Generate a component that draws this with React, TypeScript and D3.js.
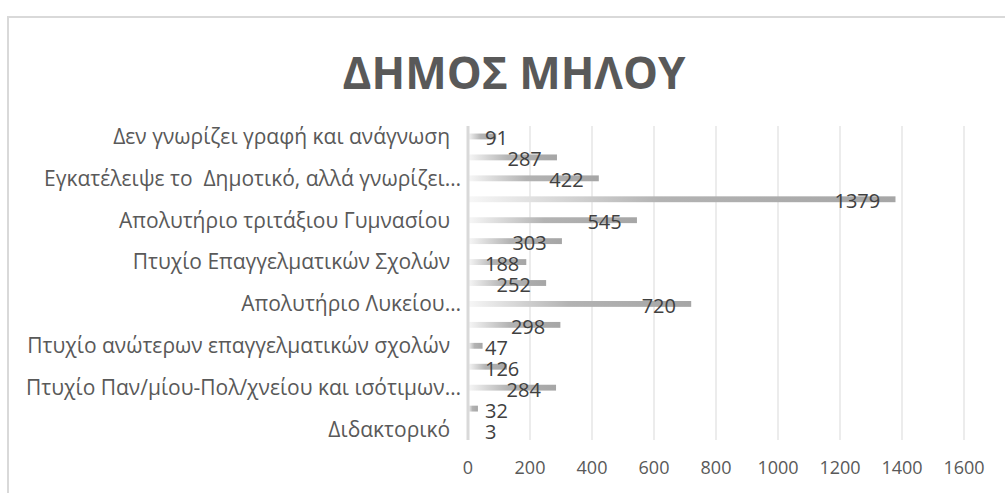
import React from "react";
import * as d3 from "d3";

// education level categories (only every other one is labelled in the chart)
const categories = [
  "Δεν γνωρίζει γραφή και ανάγνωση  ",
  "Δεν πήγε σχολείο αλλά γνωρίζει γραφή και ανάγνωση",
  "Εγκατέλειψε το  Δημοτικό, αλλά γνωρίζει…",
  "Απολυτήριο Δημοτικού",
  "Απολυτήριο τριτάξιου Γυμνασίου  ",
  "Απολυτήριο Γυμνασίου",
  "Πτυχίο Επαγγελματικών Σχολών  ",
  "Πτυχίο Τεχνικής Επαγγελματικής Σχολής",
  "Απολυτήριο Λυκείου…",
  "Πτυχίο Μεταδευτεροβάθμιας εκπαίδευσης",
  "Πτυχίο ανώτερων επαγγελματικών σχολών  ",
  "Πτυχίο ΤΕΙ",
  "Πτυχίο Παν/μίου-Πολ/χνείου και ισότιμων…",
  "Μεταπτυχιακό",
  "Διδακτορικό  ",
];
const values = [91, 287, 422, 1379, 545, 303, 188, 252, 720, 298, 47, 126, 284, 32, 3];
const xTicks = [0, 200, 400, 600, 800, 1000, 1200, 1400, 1600];
const title = "ΔΗΜΟΣ ΜΗΛΟΥ";

const width = 1005;
const height = 493;
const font = "'Open Sans', sans-serif";
const textColor = "#595959";

const App = () => {
  const x = d3.scaleLinear().domain([0, 1600]).range([468, 964]);
  const y = d3
    .scaleBand()
    .domain(categories)
    .range([126, 440])
    .paddingInner(0.72)
    .paddingOuter(0.36);
  const digitW = 11.5;

  return (
    <svg
      width={width}
      height={height}
      style={{ position: "absolute", left: 0, top: 0, background: "#fff" }}
      fontFamily={font}
    >
      <defs>
        <linearGradient id="barGrad" x1="0" x2="1" y1="0" y2="0">
          <stop offset="0" stopColor="#f7f7f7" />
          <stop offset="0.45" stopColor="#b3b3b3" />
          <stop offset="1" stopColor="#a6a6a6" />
        </linearGradient>
      </defs>
      <rect x={8} y={17} width={1100} height={600} fill="#fff" stroke="#d9d9d9" strokeWidth={2} />
      <text
        x={514}
        y={89}
        textAnchor="middle"
        fontSize={44}
        fontWeight="bold"
        fill={textColor}
      >
        {title}
      </text>

      {/* gridlines */}
      {xTicks.slice(1).map((t) => (
        <line key={t} x1={x(t)} x2={x(t)} y1={126} y2={440} stroke="#d9d9d9" strokeWidth={1} />
      ))}
      {xTicks.map((t) => (
        <text key={"l" + t} x={x(t)} y={474} textAnchor="middle" fontSize={18} fill={textColor}>
          {t}
        </text>
      ))}

      {/* bars */}
      {values.map((v, i) => (
        <rect
          key={i}
          x={x(0)}
          y={y(categories[i])!}
          width={x(v) - x(0)}
          height={y.bandwidth()}
          fill="url(#barGrad)"
        />
      ))}

      {/* vertical axis line */}
      <line x1={x(0)} x2={x(0)} y1={126} y2={440} stroke="#d9d9d9" strokeWidth={3} />

      {/* category labels, every other one */}
      {categories.map((c, i) =>
        i % 2 === 0 ? (
          <text
            key={"c" + i}
            x={461}
            y={y(c)! + y.bandwidth() / 2}
            dy="0.35em"
            textAnchor="end"
            fontSize={21}
            fill={textColor}
            style={{ whiteSpace: "pre" }}
          >
            {c}
          </text>
        ) : null
      )}

      {/* data labels */}
      {values.map((v, i) => {
        const w = String(v).length * digitW;
        const left = Math.max(x(v) - 15 - w, x(0) + 17);
        return (
          <text
            key={"v" + i}
            x={left}
            y={y(categories[i])! + y.bandwidth() / 2 + 2}
            dy="0.35em"
            fontSize={20}
            fill="#404040"
          >
            {v}
          </text>
        );
      })}
    </svg>
  );
};

export default App;
